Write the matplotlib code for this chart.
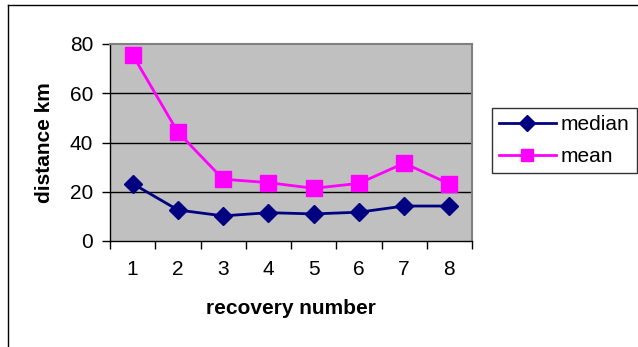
import matplotlib.pyplot as plt
import numpy as np

recovery = [1, 2, 3, 4, 5, 6, 7, 8]
median_km = [23.3, 12.6, 10.2, 11.5, 11.0, 11.7, 14.2, 14.2]
mean_km = [75.6, 44.2, 25.1, 23.7, 21.4, 23.4, 31.6, 23.2]
yticks = [0, 20, 40, 60, 80]

plt.rcParams['font.family'] = ['Liberation Sans', 'DejaVu Sans']
FS = 15

W, H = 638, 347
fig = plt.figure(figsize=(W / 100, H / 100), dpi=100)

# outer chart frame (only top and left edges visible)
fig.add_artist(plt.Line2D([8 / W, 8 / W], [0, 1 - 5 / H], color='black', lw=1))
fig.add_artist(plt.Line2D([8 / W, 1], [1 - 5 / H, 1 - 5 / H], color='black', lw=1))

x0, x1 = 110, 472
ytop, ybot = 44, 241
ax = fig.add_axes([x0 / W, 1 - ybot / H, (x1 - x0) / W, (ybot - ytop) / H])
ax.set_facecolor('#C0C0C0')

for y in yticks[1:-1]:
    ax.axhline(y, color='black', lw=1, zorder=1)

ax.plot(recovery, median_km, color='#000080', lw=2, marker='D', ms=9.5,
        mec='#000080', mfc='#000080', label='median', zorder=3)
ax.plot(recovery, mean_km, color='#FF00FF', lw=2, marker='s', ms=11,
        mec='#FF00FF', mfc='#FF00FF', label='mean', zorder=3)

ax.set_xlim(0.5, 8.5)
ax.set_ylim(0, 80)
ax.set_yticks(yticks)
ax.set_yticklabels([str(v) for v in yticks], fontsize=FS)
# ticks sit between categories, labels centred on them
ax.set_xticks(np.arange(0.5, 9, 1))
ax.set_xticklabels([])
ax.set_xticks(recovery, minor=True)
ax.set_xticklabels([str(v) for v in recovery], minor=True, fontsize=FS)
ax.tick_params(axis='x', which='major', direction='out', length=6, width=1)
ax.tick_params(axis='x', which='minor', length=0, pad=14)
ax.tick_params(axis='y', direction='out', length=6, width=1, pad=6)

for side in ['top', 'right']:
    ax.spines[side].set_color('#808080')
    ax.spines[side].set_linewidth(1.5)
for side in ['left', 'bottom']:
    ax.spines[side].set_color('black')
    ax.spines[side].set_linewidth(1)

fig.text(45 / W, 1 - 143 / H, 'distance km', rotation=90, fontsize=FS,
         fontweight='bold', ha='center', va='center')
fig.text(291 / W, 1 - 309 / H, 'recovery number', fontsize=FS,
         fontweight='bold', ha='center', va='center')

leg = fig.legend(loc='upper left', bbox_to_anchor=(492 / W, 1 - 108 / H),
                 fontsize=FS, frameon=True, fancybox=False, borderpad=0.35,
                 handlelength=2.7, handletextpad=0.25, labelspacing=0.6,
                 borderaxespad=0, markerscale=0.85)
leg.get_frame().set_edgecolor('black')
leg.get_frame().set_linewidth(1)

fig.savefig('out.png', dpi=100)
